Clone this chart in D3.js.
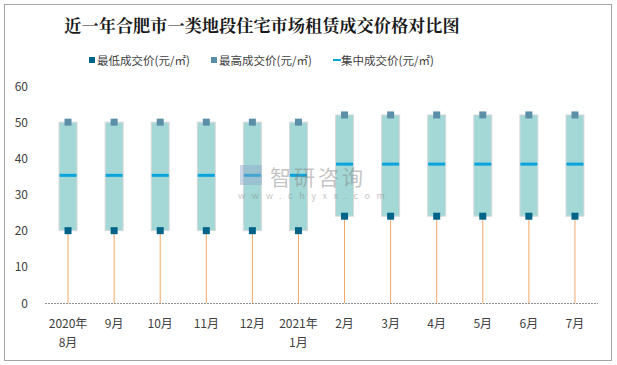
<!DOCTYPE html>
<html><head><meta charset="utf-8">
<script src="https://cdn.jsdelivr.net/npm/d3@7"></script>
<style>body{margin:0;background:#fff}svg{display:block}</style>
</head><body>
<svg id="c" width="617" height="365"></svg>
<script>
const categories = ["2020年\n8月","9月","10月","11月","12月","2021年\n1月","2月","3月","4月","5月","6月","7月"];
const minPrice = [20,20,20,20,20,20,24,24,24,24,24,24];
const maxPrice = [50,50,50,50,50,50,52,52,52,52,52,52];
const midPrice = [35.3,35.3,35.3,35.3,35.3,35.3,38.4,38.4,38.4,38.4,38.4,38.4];
const yTicks = [0,10,20,30,40,50,60];
const legendLabels = ["最低成交价(元/㎡)","最高成交价(元/㎡)","集中成交价(元/㎡)"];

const svg = d3.select("#c");
const font = "'Noto Sans CJK SC', 'Noto Sans', sans-serif";
svg.append("rect").attr("x",4.5).attr("y",4.5).attr("width",607).attr("height",356)
  .attr("fill","#fff").attr("stroke","#a6a6a6");

svg.append("text").attr("x",262).attr("y",31.5).attr("text-anchor","middle")
  .attr("font-family","'Noto Serif CJK SC','Noto Sans CJK SC',serif").attr("font-weight","bold")
  .attr("font-size",17.2).attr("fill","#1a1a1a").text("近一年合肥市一类地段住宅市场租赁成交价格对比图");

const x = d3.scaleBand().domain(d3.range(categories.length)).range([45,598]);
const y = d3.scaleLinear().domain([0,60]).range([303,86]);

// y labels
svg.append("g").selectAll("text").data(yTicks).join("text")
  .attr("x",28).attr("y",d=>y(d)+4.5).attr("text-anchor","end")
  .attr("font-family",font).attr("font-size",12).attr("fill","#404040").text(d=>d);

// axis line
svg.append("line").attr("x1",45).attr("x2",598).attr("y1",y(0)+0.5).attr("y2",y(0)+0.5)
  .attr("stroke","#909090").attr("stroke-dasharray","2,1");

// x labels
const xl = svg.append("g").selectAll("text").data(categories).join("text")
  .attr("text-anchor","middle").attr("font-family",font).attr("font-size",12).attr("fill","#404040");
xl.each(function(d,i){
  const lines = d.split("\n");
  const t = d3.select(this);
  lines.forEach((l,j)=>t.append("tspan").attr("x",x(i)+x.bandwidth()/2).attr("y",328+j*19).text(l));
});

const cx = i => x(i)+x.bandwidth()/2;
const g = svg.append("g");
// drop lines
g.selectAll("line.drop").data(categories).join("line").attr("class","drop")
  .attr("x1",(d,i)=>cx(i)).attr("x2",(d,i)=>cx(i))
  .attr("y1",(d,i)=>y(minPrice[i])).attr("y2",y(0))
  .attr("stroke","#f0a868").attr("stroke-width",1);
// boxes
g.selectAll("rect.box").data(categories).join("rect").attr("class","box")
  .attr("x",(d,i)=>cx(i)-9).attr("width",18)
  .attr("y",(d,i)=>y(maxPrice[i])).attr("height",(d,i)=>y(minPrice[i])-y(maxPrice[i]))
  .attr("fill","#a4d8d6").attr("stroke","#d9d9d9").attr("stroke-width",1);
// median
g.selectAll("rect.mid").data(categories).join("rect").attr("class","mid")
  .attr("x",(d,i)=>cx(i)-8.5).attr("width",17)
  .attr("y",(d,i)=>y(midPrice[i])-1.5).attr("height",3).attr("fill","#0aa3dc");
// max marker
g.selectAll("rect.mx").data(categories).join("rect").attr("class","mx")
  .attr("x",(d,i)=>cx(i)-3.5).attr("width",7)
  .attr("y",(d,i)=>y(maxPrice[i])-3.5).attr("height",7).attr("fill","#5b8fa8");
// min marker
g.selectAll("rect.mn").data(categories).join("rect").attr("class","mn")
  .attr("x",(d,i)=>cx(i)-3.5).attr("width",7)
  .attr("y",(d,i)=>y(minPrice[i])-3.5).attr("height",7).attr("fill","#006388");

// watermark
const wm = svg.append("g").attr("opacity",0.45);
wm.append("rect").attr("x",240).attr("y",165).attr("width",22).attr("height",20).attr("fill","#8fa6c8");
wm.append("text").attr("x",270).attr("y",185).attr("font-family",font).attr("font-size",21)
  .attr("fill","#808080").attr("letter-spacing",3).text("智研咨询");
wm.append("text").attr("x",238).attr("y",199).attr("font-family",font).attr("font-size",9)
  .attr("fill","#808080").attr("letter-spacing",6.6).text("www.chyxx.com");

// legend
const leg = svg.append("g");
const lx = [89,211,333];
const lcol = ["#006388","#5b8fa8","#0aa3dc"];
legendLabels.forEach((t,i)=>{
  if(i<2) leg.append("rect").attr("x",lx[i]).attr("y",57).attr("width",6).attr("height",6).attr("fill",lcol[i]);
  else leg.append("rect").attr("x",lx[i]).attr("y",59).attr("width",8).attr("height",2).attr("fill",lcol[i]);
  leg.append("text").attr("x",lx[i]+8).attr("y",64.5).attr("font-family",font).attr("font-size",11.5)
    .attr("fill","#404040").text(t);
});
</script>
</body></html>
